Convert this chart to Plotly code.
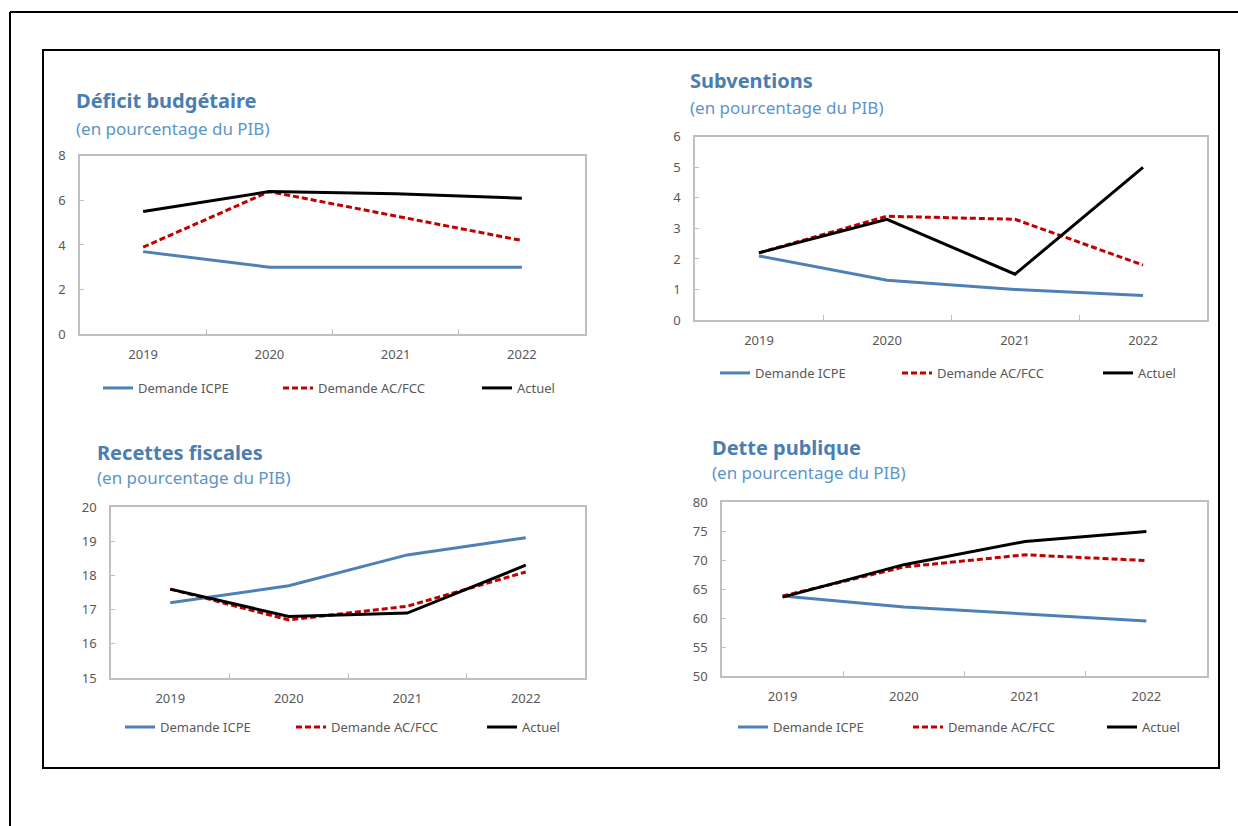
import plotly.graph_objects as go

W, H = 1238, 826

years = ["2019", "2020", "2021", "2022"]
series_names = ["Demande ICPE", "Demande AC/FCC", "Actuel"]

# Déficit budgétaire (en % du PIB)
deficit_icpe = [3.7, 3.0, 3.0, 3.0]
deficit_acfcc = [3.9, 6.4, 5.3, 4.2]
deficit_actuel = [5.5, 6.4, 6.3, 6.1]

# Subventions (en % du PIB)
subv_icpe = [2.1, 1.3, 1.0, 0.8]
subv_acfcc = [2.2, 3.4, 3.3, 1.8]
subv_actuel = [2.2, 3.3, 1.5, 5.0]

# Recettes fiscales (en % du PIB)
recettes_icpe = [17.2, 17.7, 18.6, 19.1]
recettes_acfcc = [17.6, 16.7, 17.1, 18.1]
recettes_actuel = [17.6, 16.8, 16.9, 18.3]

# Dette publique (en % du PIB)
dette_icpe = [63.8, 61.9, 60.7, 59.5]
dette_acfcc = [63.8, 68.8, 70.9, 69.9]
dette_actuel = [63.6, 69.2, 73.2, 74.9]

titles = ["Déficit budgétaire", "Subventions", "Recettes fiscales", "Dette publique"]
subtitle = "(en pourcentage du PIB)"
y_ranges = [(0, 8, 2), (0, 6, 1), (15, 20, 1), (50, 80, 5)]

BLUE = "#4e80b5"
RED = "#c00000"
BLACK = "#000000"
TITLE_C = "#4a7db1"
SUB_C = "#5b95c8"
AXIS_C = "#bfbfbf"
TICK_FONT = dict(family="Noto Sans", size=13, color="#595959")

# Panel geometry in pixels: plot box (left, right, top, bottom), title position,
# legend row (x of legend box, y) and text widths of the legend entries
panels = [
    dict(box=(80, 585, 156, 334), title=(74, 101), sub=(74, 129), leg=(98, 388),
         lw=(135, 154, 60)),
    dict(box=(695, 1207, 137, 320), title=(688, 81), sub=(688, 108), leg=(715, 373),
         lw=(137, 156, 60)),
    dict(box=(111, 585, 507, 678), title=(95, 453), sub=(95, 478), leg=(120, 727),
         lw=(126, 146, 60)),
    dict(box=(722, 1207, 502, 676), title=(710, 448), sub=(710, 473), leg=(733, 727),
         lw=(130, 149, 60)),
]

data = [
    (deficit_icpe, deficit_acfcc, deficit_actuel),
    (subv_icpe, subv_acfcc, subv_actuel),
    (recettes_icpe, recettes_acfcc, recettes_actuel),
    (dette_icpe, dette_acfcc, dette_actuel),
]

styles = [
    dict(color=BLUE, width=3, dash="solid"),
    dict(color=RED, width=3, dash="6px,3px"),
    dict(color=BLACK, width=3, dash="solid"),
]

# vertical page mapping (page offset and scale of the drawing area)
Y_OFF, Y_SCALE = 9.1, 0.978


def px_x(x):
    return x / W


def px_y(y):
    return 1 - ((y - Y_OFF) / Y_SCALE) / H


fig = go.Figure()
layout = dict(
    width=W, height=H,
    margin=dict(l=0, r=0, t=0, b=0),
    paper_bgcolor="white", plot_bgcolor="white",
    showlegend=True,
    annotations=[], shapes=[],
)

for i, (p, vals) in enumerate(zip(panels, data)):
    n = i + 1
    xa = "x" if n == 1 else f"x{n}"
    ya = "y" if n == 1 else f"y{n}"
    leg = "legend" if n == 1 else f"legend{n}"
    for name, v, st, lw in zip(series_names, vals, styles, p["lw"]):
        fig.add_trace(go.Scatter(
            x=years, y=v, name=name, mode="lines",
            line=dict(color=st["color"], width=st["width"], dash=st["dash"]),
            xaxis=xa, yaxis=ya, legend=leg, legendwidth=lw,
            hoverinfo="skip",
        ))
    l, r, t, b = p["box"]
    y0, y1, dt = y_ranges[i]
    layout[f"xaxis{'' if n == 1 else n}"] = dict(
        domain=[px_x(l), px_x(r)], anchor=ya,
        type="category", categoryorder="array", categoryarray=years,
        range=[-0.5, 3.5], tickson="boundaries",
        ticks="inside", ticklen=5, tickcolor=AXIS_C, tickwidth=1,
        showline=True, linecolor=AXIS_C, linewidth=1.5, mirror=True,
        showgrid=False, zeroline=False, tickfont=TICK_FONT,
        ticklabelstandoff=8, fixedrange=True,
    )
    layout[f"yaxis{'' if n == 1 else n}"] = dict(
        domain=[px_y(b), px_y(t)], anchor=xa,
        range=[y0, y1], dtick=dt, tick0=y0,
        ticks="inside", ticklen=4, tickcolor=AXIS_C, tickwidth=1,
        showline=True, linecolor=AXIS_C, linewidth=1.5, mirror=True,
        showgrid=False, zeroline=False, tickfont=TICK_FONT,
        ticklabelstandoff=10, fixedrange=True,
    )
    lx, ly = p["leg"]
    layout[leg] = dict(
        orientation="h", x=px_x(lx), y=px_y(ly),
        xanchor="left", yanchor="middle",
        font=dict(family="Noto Sans", size=13, color="#595959"),
        bgcolor="rgba(0,0,0,0)", borderwidth=0,
        itemclick=False, itemdoubleclick=False,
    )
    tx, ty = p["title"]
    layout["annotations"].append(dict(
        text=f"<b>{titles[i]}</b>", x=px_x(tx), y=px_y(ty),
        xref="paper", yref="paper", xanchor="left", yanchor="middle",
        showarrow=False, font=dict(family="Noto Sans", size=20, color=TITLE_C),
    ))
    sx, sy = p["sub"]
    layout["annotations"].append(dict(
        text=subtitle, x=px_x(sx), y=px_y(sy),
        xref="paper", yref="paper", xanchor="left", yanchor="middle",
        showarrow=False, font=dict(family="Noto Sans", size=17, color=SUB_C),
    ))

# Page frames: outer edge lines and the inner box holding the four charts
frame = dict(color="black", width=2)
layout["shapes"] += [
    dict(type="line", xref="paper", yref="paper", x0=px_x(10), x1=px_x(10),
         y0=px_y(12), y1=-0.1, line=frame),
    dict(type="line", xref="paper", yref="paper", x0=px_x(10), x1=1,
         y0=px_y(12), y1=px_y(12), line=frame),
    dict(type="rect", xref="paper", yref="paper", x0=px_x(43), x1=px_x(1219),
         y0=px_y(768), y1=px_y(50), line=frame),
]

fig.update_layout(**layout)
fig.write_html(
    "out.html",
    config=dict(displayModeBar=False),
    post_script="document.body.style.margin='0';document.body.style.overflow='hidden';",
)
